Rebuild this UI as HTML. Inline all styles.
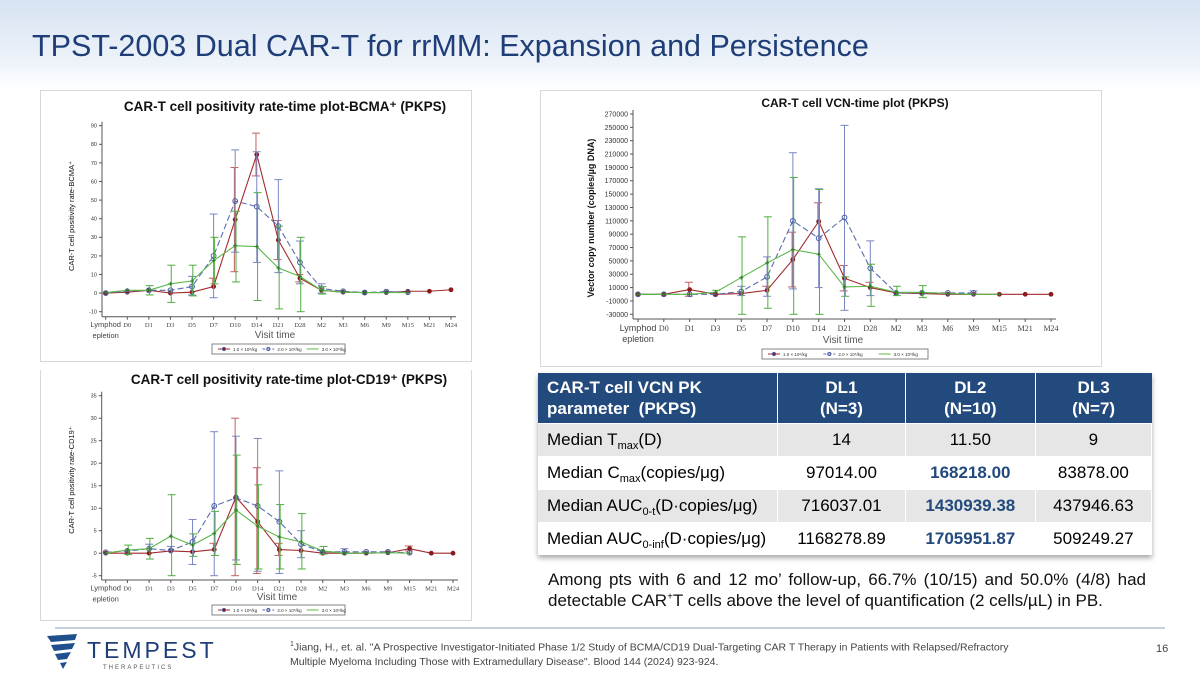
<!DOCTYPE html>
<html><head><meta charset="utf-8"><style>
html,body{margin:0;padding:0}
body{width:1200px;height:675px;position:relative;overflow:hidden;font-family:"Liberation Sans",sans-serif;background:#fff}
#hdr{position:absolute;left:0;top:0;width:1200px;height:90px;background:linear-gradient(#d6e3f2,#eef3fa 70%,#fff)}
#title{position:absolute;left:32px;top:29px;font-size:30.5px;color:#1f3e78}
.panel{position:absolute;border:1px solid #d8d8d8;background:#fff}
table{position:absolute;left:538px;top:373px;width:614px;border-collapse:collapse;font-size:17px;box-shadow:0 3px 5px rgba(0,0,0,.35)}
th{background:#234a7d;color:#fff;font-weight:bold;height:50px;padding:0;border-right:1px solid #fff;text-align:center;line-height:21px}
th:first-child{text-align:left;padding-left:9px}
td{height:32px;padding:0;line-height:20px;text-align:center;border-right:1px solid #fff;border-top:1px solid #fff}
td:first-child{text-align:left;padding-left:9px}
tr.g td{background:#e6e6e6}
.b{color:#234a7d;font-weight:bold}
sub{font-size:11px;line-height:0;vertical-align:-4px}
#note{position:absolute;left:548px;top:569px;width:598px;font-size:17px;line-height:21px;text-align:justify;color:#111;text-align-last:left}
#rule{position:absolute;left:55px;top:627px;width:1110px;height:2px;background:#c8d2de}
#ref{position:absolute;left:290px;top:638px;font-size:10.5px;color:#444;line-height:14px}
#pg{position:absolute;left:1156px;top:643px;font-size:11px;color:#444}
#logo{position:absolute;left:45px;top:632px}
</style></head><body>
<div id="hdr"></div>
<div id="title">TPST-2003 Dual CAR-T for rrMM: Expansion and Persistence</div>
<div class="panel" style="left:40px;top:90px;width:430px;height:270px"></div>
<div class="panel" style="left:540px;top:90px;width:560px;height:275px"></div>
<div class="panel" style="left:40px;top:370px;width:430px;height:250px;border-top:none"></div>
<svg id="svg" width="1200" height="675" style="position:absolute;left:0;top:0"></svg>

<table>
<tr><th style="width:230px">CAR-T cell VCN PK<br>parameter&nbsp; (PKPS)</th><th>DL1<br>(N=3)</th><th>DL2<br>(N=10)</th><th style="border-right:none">DL3<br>(N=7)</th></tr>
<tr class="g"><td>Median T<sub>max</sub>(D)</td><td>14</td><td>11.50</td><td>9</td></tr>
<tr><td>Median C<sub>max</sub>(copies/μg)</td><td>97014.00</td><td class="b">168218.00</td><td>83878.00</td></tr>
<tr class="g"><td>Median AUC<sub>0-t</sub>(D·copies/μg)</td><td>716037.01</td><td class="b">1430939.38</td><td>437946.63</td></tr>
<tr><td>Median AUC<sub>0-inf</sub>(D·copies/μg)</td><td>1168278.89</td><td class="b">1705951.87</td><td>509249.27</td></tr>
</table>
<div id="note">Among pts with 6 and 12 mo’ follow-up, 66.7% (10/15) and 50.0% (4/8) had detectable CAR<sup style="font-size:10px;line-height:0">+</sup>T cells above the level of quantification (2 cells/µL) in PB.</div>
<div id="rule"></div>
<div id="logo">
<svg width="170" height="38"><path d="M2 4 L32 2 L30 8 L6 10 Z M6 13 L30 11 L27 17 L9 19Z M10 22 L26 20 L22 27 L13 28Z M15 31 L22 30 L18 37Z" fill="#1f4f8c"/>
<text x="42" y="26" font-size="23" fill="#1f3e78" letter-spacing="3" font-family="Liberation Sans">TEMPEST</text>
<text x="58" y="37" font-size="6" fill="#555" letter-spacing="2">THERAPEUTICS</text></svg></div>
<div id="ref"><sup style="font-size:7px">1</sup>Jiang, H., et. al. "A Prospective Investigator-Initiated Phase 1/2 Study of BCMA/CD19 Dual-Targeting CAR T Therapy in Patients with Relapsed/Refractory<br>Multiple Myeloma Including Those with Extramedullary Disease". Blood 144 (2024) 923-924.</div>
<div id="pg">16</div>

<script>
const categories=["Lymphod","D0","D1","D3","D5","D7","D10","D14","D21","D28","M2","M3","M6","M9","M15","M21","M24"];
const seriesNames=["1.0 × 10⁶/kg","2.0 × 10⁶/kg","3.0 × 10⁶/kg"];
// BCMA
const bcmaDL1=[0,0.5,1.5,0,0.5,3.5,39.5,74.5,28.5,8,1.5,0.5,0.3,0.3,1,1,1.8];
const bcmaDL1Lo=[null,null,null,null,null,null,11.5,63,18,6,null,null,null,null,null,null,null];
const bcmaDL1Hi=[null,null,null,null,null,8,67.5,86,39,10,null,null,null,null,null,null,null];
const bcmaDL2=[0,1,1.5,1.5,3.5,20,49.5,46.5,36,16.5,2.5,1,0.3,0.8,0.5,null,null];
const bcmaDL2Lo=[null,null,null,null,-1,-2.5,22,16.5,11,5,0,null,null,null,null,null,null];
const bcmaDL2Hi=[null,null,null,null,9,42.5,77,76,61,28,5,null,null,null,null,null,null];
const bcmaDL3=[0.3,1.5,1.5,5,6.5,17.5,25.5,25,13.5,9,1.5,0.5,0.3,0.3,0.3,null,null];
const bcmaDL3Lo=[null,null,-1,-5,-1.5,5,6,-4,-8.5,-11.5,-0.5,null,null,null,null,null,null];
const bcmaDL3Hi=[null,null,4,15,15,30,44,54,36,30,3.5,null,null,null,null,null,null];
const bcmaTicks=[-10,0,10,20,30,40,50,60,70,80,90];
// VCN
const vcnDL1=[0,0,7000,0,1000,6000,52000,109000,24000,10000,2000,1000,0,0,0,0,0];
const vcnDL1Lo=[null,null,-3000,null,null,null,11000,null,5000,null,null,null,null,null,null,null,null];
const vcnDL1Hi=[null,null,18000,null,null,12000,93000,137000,43000,18000,null,null,null,null,null,null,null];
const vcnDL2=[0,0,0,0,4000,26000,110000,84000,115000,39000,2000,2000,2000,2000,null,null,null];
const vcnDL2Lo=[null,null,null,null,-2000,-3000,8000,10000,-24000,-2000,null,null,null,null,null,null,null];
const vcnDL2Hi=[null,null,null,null,12000,56000,212000,158000,253000,80000,null,null,null,5000,null,null,null];
const vcnDL3=[0,0,0,3000,25000,47000,67000,60000,11000,12000,3000,3000,1000,0,0,null,null];
const vcnDL3Lo=[null,null,null,null,-36000,-21000,-36000,-36000,-3000,-18000,-2000,-5000,null,null,null,null,null];
const vcnDL3Hi=[null,null,null,6000,86000,116000,175000,157000,26000,45000,12000,13000,null,null,null,null,null];
const vcnTicks=[-30000,-10000,10000,30000,50000,70000,90000,110000,130000,150000,170000,190000,210000,230000,250000,270000];
// CD19
const cdDL1=[0,0,0,0.5,0.3,0.8,12.5,7,0.8,0.6,0,0,0,0.1,1,0,0];
const cdDL1Lo=[null,null,null,null,null,null,-5,-4.5,-0.5,null,null,null,null,null,0.5,null,null];
const cdDL1Hi=[null,null,null,null,null,2.2,30,19,2.2,null,null,null,null,null,1.6,null,null];
const cdDL2=[0.2,0.5,1,0.6,2.5,10.5,12.3,10.5,7,2,0.3,0.3,0.3,0.3,0.1,null,null];
const cdDL2Lo=[null,null,null,null,-2.5,-6,-1.5,-4,-4.5,-1,null,-0.1,null,null,null,null,null];
const cdDL2Hi=[null,null,2,1.5,7.5,27,26,25.5,18.3,5,null,1,null,null,null,null,null];
const cdDL3=[0,0.7,1,3.8,1.8,4.4,9.6,6,3.6,2.5,0.5,0,0,0.1,0,null,null];
const cdDL3Lo=[null,-0.3,-1.3,-5.5,-0.7,-0.5,-2.5,-3.5,-3.5,-3.5,-0.2,null,null,null,null,null,null];
const cdDL3Hi=[null,1.8,3.3,13,4.3,9.3,21.8,15.2,10.8,8.8,1.5,null,null,null,null,null,null];
const cdTicks=[-5,0,5,10,15,20,25,30,35];

const svg=document.getElementById('svg');const NS='http://www.w3.org/2000/svg';
function el(t,a,p){const e=document.createElementNS(NS,t);for(const k in a)e.setAttribute(k,a[k]);(p||svg).appendChild(e);return e;}
const colors=['#a32a2c','#5a6cb0','#5cb84a'];
const errCol=['#c0605f','#7a86c2','#4fae3f'];
function chart(name,c,series,ticks,tickFmt){
  const g=el('g',{});
  
  
  const x=i=>c.x0+i*(c.x1-c.x0)/(categories.length-1);
  const y=v=>c.yb+(v-c.vmin)*(c.yt-c.yb)/(c.vmax-c.vmin);
  const tx=el('text',{x:c.tcx,y:c.ty,'font-size':c.tfs,'font-weight':'bold','text-anchor':'middle',fill:'#111'},g);tx.textContent=c.title;
  
  el('line',{x1:c.ax,y1:y(c.vmax)-4,x2:c.ax,y2:c.axb,stroke:'#555','stroke-width':1},g);
  el('line',{x1:c.ax,y1:c.axb,x2:c.x1+5,y2:c.axb,stroke:'#555','stroke-width':1},g);
  ticks.forEach(t=>{const yy=y(t);el('line',{x1:c.ax-3,y1:yy,x2:c.ax,y2:yy,stroke:'#555'},g);
    const l=el('text',{x:c.ax-5,y:yy+c.kfs*0.35,'font-size':c.kfs,'text-anchor':'end',fill:'#333'},g);l.textContent=tickFmt(t);
    });
  categories.forEach((cat,i)=>{const xx=x(i);el('line',{x1:xx,y1:c.axb,x2:xx,y2:c.axb+3,stroke:'#555'},g);
    const l=el('text',{x:xx,y:c.axb+c.kfs+5,'font-size':i==0?c.kfs+2:c.kfs+1,'text-anchor':'middle',fill:'#444','font-family':i==0?'Liberation Sans':'Liberation Serif'},g);l.textContent=cat;
    
    if(i==0){const l2=el('text',{x:xx,y:c.axb+c.kfs+16,'font-size':c.kfs+2,'text-anchor':'middle',fill:'#444'},g);l2.textContent='epletion';}});
  const xt=el('text',{x:c.vx,y:c.vy,'font-size':c.vfs,'text-anchor':'middle',fill:'#555'},g);xt.textContent='Visit time';
  
  const yt=el('text',{x:0,y:0,'font-size':c.yfs,'font-weight':c.ybold?'bold':'normal','text-anchor':'middle',fill:'#111',transform:`translate(${c.ytx},${c.yty}) rotate(-90)`},g);yt.textContent=c.ytitle;
  
  series.forEach((s,k)=>{
    s.lo.forEach((v,i)=>{const hi=s.hi[i];if(v==null&&hi==null)return;const xx=x(i)+(k-1)*0.8;
      const a=y(v==null?s.v[i]:Math.max(v,c.vmin)),b=y(hi==null?s.v[i]:hi);
      el('line',{x1:xx,y1:a,x2:xx,y2:b,stroke:errCol[k],'stroke-width':1},g);
      if(v!=null)el('line',{x1:xx-4,y1:a,x2:xx+4,y2:a,stroke:errCol[k]},g);
      if(hi!=null)el('line',{x1:xx-4,y1:b,x2:xx+4,y2:b,stroke:errCol[k]},g);});
    let d='';s.v.forEach((v,i)=>{if(v==null)return;d+=(d?'L':'M')+x(i)+' '+y(v);});
    const p=el('path',{d:d,fill:'none',stroke:colors[k],'stroke-width':1.1,'stroke-dasharray':k==1?'6 3':'none'},g);
    
    s.v.forEach((v,i)=>{if(v==null)return;
      let m;if(k==0)m=el('circle',{cx:x(i),cy:y(v),r:2.4,fill:'#8b1a1c'},g);
      else if(k==1)m=el('circle',{cx:x(i),cy:y(v),r:2.4,fill:'none',stroke:'#4a5ca0','stroke-width':1},g);
      else m=el('path',{d:`M${x(i)-2} ${y(v)}h4M${x(i)} ${y(v)-2}v4`,stroke:'#2e7a2a','stroke-width':1},g);
      });
  });
  const lg=el('g',{},g);
  el('rect',{x:c.lx,y:c.ly-5,width:c.lw,height:10,fill:'#fff',stroke:'#666','stroke-width':0.8},lg);
  seriesNames.forEach((n,k)=>{const sx=c.lx+6+k*c.lw/3;
    el('line',{x1:sx,y1:c.ly,x2:sx+12,y2:c.ly,stroke:colors[k],'stroke-dasharray':k==1?'3 2':'none'},lg);
    el('circle',{cx:sx+6,cy:c.ly,r:1.6,fill:k==0?'#8b1a1c':'none',stroke:k==2?'none':'#4a5ca0'},lg);
    const t=el('text',{x:sx+15,y:c.ly+2,'font-size':4.5,fill:'#333'},lg);t.textContent=n;
    });
}
chart('bcma-chart',{x0:105.7,x1:451,vmin:-10,vmax:90,yb:311.7,yt:125.7,ax:102,axb:316.7,title:'CAR-T cell positivity rate-time plot-BCMA⁺ (PKPS)',tcx:285,ty:111,tfs:13.5,kfs:5.5,vx:275,vy:338,vfs:10,ytitle:'CAR-T cell positivity rate-BCMA⁺',ytx:74,yty:216,yfs:7.5,lx:212,ly:349,lw:133},
 [{v:bcmaDL1,lo:bcmaDL1Lo,hi:bcmaDL1Hi},{v:bcmaDL2,lo:bcmaDL2Lo,hi:bcmaDL2Hi},{v:bcmaDL3,lo:bcmaDL3Lo,hi:bcmaDL3Hi}],bcmaTicks,t=>t);
chart('vcn-chart',{x0:638,x1:1051,vmin:-30000,vmax:270000,yb:314.3,yt:114,ax:633,axb:319,title:'CAR-T cell VCN-time plot (PKPS)',tcx:855,ty:107,tfs:12,kfs:7,vx:843,vy:343,vfs:10,ytitle:'Vector copy number (copies/µg DNA)',ytx:594,yty:218,yfs:9,ybold:true,lx:762,ly:354,lw:166},
 [{v:vcnDL1,lo:vcnDL1Lo,hi:vcnDL1Hi},{v:vcnDL2,lo:vcnDL2Lo,hi:vcnDL2Hi},{v:vcnDL3,lo:vcnDL3Lo,hi:vcnDL3Hi}],vcnTicks,t=>t);
chart('cd19-chart',{x0:105.7,x1:453,vmin:-5,vmax:35,yb:575.7,yt:395.7,ax:101.7,axb:580,title:'CAR-T cell positivity rate-time plot-CD19⁺ (PKPS)',tcx:289,ty:384,tfs:13.5,kfs:5.5,vx:277,vy:600,vfs:10,ytitle:'CAR-T cell positivity rate-CD19⁺',ytx:74,yty:480,yfs:7.5,lx:212,ly:610,lw:133},
 [{v:cdDL1,lo:cdDL1Lo,hi:cdDL1Hi},{v:cdDL2,lo:cdDL2Lo,hi:cdDL2Hi},{v:cdDL3,lo:cdDL3Lo,hi:cdDL3Hi}],cdTicks,t=>t);
</script>
</body></html>
